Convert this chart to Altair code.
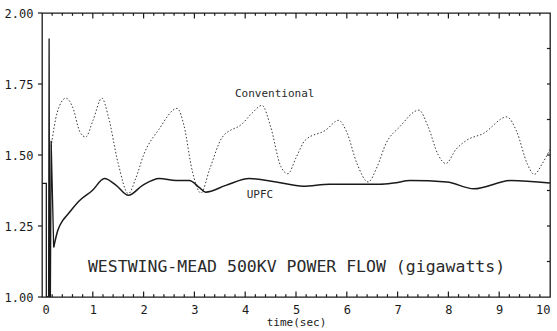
import altair as alt
import pandas as pd

# Conventional (dotted)
conv_t = [0.18, 0.3, 0.47, 0.6, 0.75, 0.86, 1.0, 1.18, 1.3, 1.5, 1.70, 1.85, 2.0, 2.3, 2.66, 2.8, 2.95, 3.13,
          3.3, 3.55, 3.94, 4.15, 4.33, 4.5, 4.7, 4.84, 5.0, 5.18, 5.58, 5.84, 6.0, 6.2, 6.42, 6.6, 6.77, 7.04,
          7.42, 7.6, 7.8, 7.95, 8.15, 8.36, 8.69, 9.15, 9.35, 9.55, 9.69, 9.85, 10.0]
conv_v = [1.53, 1.65, 1.70, 1.67, 1.58, 1.563, 1.62, 1.70, 1.64, 1.47, 1.364, 1.42, 1.50, 1.59, 1.664, 1.60, 1.45, 1.366,
          1.45, 1.563, 1.61, 1.65, 1.675, 1.60, 1.46, 1.434, 1.49, 1.552, 1.587, 1.622, 1.58, 1.47, 1.405, 1.46, 1.54, 1.599,
          1.658, 1.60, 1.50, 1.47, 1.52, 1.552, 1.576, 1.634, 1.58, 1.47, 1.432, 1.47, 1.52]

# UPFC (solid)
upfc_t = [0.23, 0.31, 0.41, 0.48, 0.74, 0.99, 1.23, 1.46, 1.70, 1.98, 2.31, 2.64, 2.9, 3.1, 3.22, 3.62, 4.08,
          4.61, 5.14, 5.66, 6.65, 6.92, 7.25, 7.97, 8.5, 9.23, 10.0]
upfc_v = [1.175, 1.234, 1.27, 1.285, 1.34, 1.375, 1.417, 1.393, 1.358, 1.393, 1.417, 1.41, 1.41, 1.385, 1.369, 1.393, 1.417,
          1.405, 1.39, 1.397, 1.397, 1.401, 1.41, 1.405, 1.381, 1.41, 1.401]

# Fault transient (solid, straight segments)
trans_t = [0.0, 0.085, 0.085, 0.13, 0.14, 0.15, 0.165, 0.18, 0.23]
trans_v = [1.40, 1.40, 1.0, 1.0, 1.91, 1.0, 1.0, 1.55, 1.175]

label_text = ["Conventional", "UPFC"]
label_t = [4.58, 4.29]
label_v = [1.715, 1.358]

title_text = ["WESTWING-MEAD 500KV POWER FLOW (gigawatts)"]
title_t = [5.01]
title_v = [1.104]

# frame tick marks (time positions, value positions)
x_major = [1, 2, 3, 4, 5, 6, 7, 8, 9]
x_minor = [round(i * 0.2, 1) for i in range(1, 50) if i % 5 != 0]
y_major = [1.0, 1.25, 1.5, 1.75, 2.0]
y_right = [1.125, 1.25, 1.375, 1.5, 1.625, 1.75, 1.875]

FONT = "DejaVu Sans Mono"
INK = "#1a1a1a"

conv_df = pd.DataFrame({"t": conv_t, "v": conv_v})
upfc_df = pd.DataFrame({"t": upfc_t, "v": upfc_v})
trans_df = pd.DataFrame({"t": trans_t, "v": trans_v})
lab_df = pd.DataFrame({"txt": label_text, "t": label_t, "v": label_v})
title_df = pd.DataFrame({"txt": title_text, "t": title_t, "v": title_v})

# tick lengths (data units): ~5.5 px, ~2.8 px, ~3 px, ~4 px
MAJ_Y = 0.019
MIN_Y = 0.010
R_X = 0.06
L_X = 0.08
vt = []
for t in x_major:
    vt.append({"t": t, "t2": t, "v": 1.0, "v2": 1.0 + MAJ_Y})
    vt.append({"t": t, "t2": t, "v": 2.0, "v2": 2.0 - MAJ_Y})
for t in x_minor:
    vt.append({"t": t, "t2": t, "v": 1.0, "v2": 1.0 + MIN_Y})
    vt.append({"t": t, "t2": t, "v": 2.0, "v2": 2.0 - MIN_Y})
for v in y_right:
    vt.append({"t": 10.0, "t2": 10.0 - R_X, "v": v, "v2": v})
for v in y_major:
    vt.append({"t": 0.0, "t2": -L_X, "v": v, "v2": v})
ticks_df = pd.DataFrame(vt)

xs = alt.Scale(domain=[0, 10], nice=False, zero=False)
ys = alt.Scale(domain=[1, 2], nice=False, zero=False)

x_axis = alt.Axis(values=list(range(0, 11)), format="d", grid=False, domain=False, ticks=False,
                  labelPadding=7, labelFont=FONT, labelFontSize=12, labelColor=INK,
                  title="time(sec)", titleFont=FONT, titleFontSize=11, titleFontWeight="normal",
                  titleColor=INK, titlePadding=1)
y_axis = alt.Axis(values=y_major, format=".2f", grid=False, domain=False, ticks=False,
                  labelPadding=9, labelFont=FONT, labelFontSize=12,
                  labelColor=INK, title=None)

X = alt.X("t:Q", scale=xs, axis=x_axis)
Y = alt.Y("v:Q", scale=ys, axis=y_axis)

conv = alt.Chart(conv_df).mark_line(interpolate="monotone", color="#3a3a3a", strokeWidth=1,
                                    strokeDash=[1.5, 2], clip=True).encode(x=X, y=Y)
upfc = alt.Chart(upfc_df).mark_line(interpolate="monotone", color=INK, strokeWidth=1.5,
                                    clip=True).encode(x=X, y=Y)
trans = alt.Chart(trans_df).mark_line(color=INK, strokeWidth=1.3, clip=True).encode(x=X, y=Y)

labels = alt.Chart(lab_df).mark_text(font=FONT, fontSize=11, color="#2a2a2a").encode(x=X, y=Y, text="txt:N")
title = alt.Chart(title_df).mark_text(font=FONT, fontSize=16.5, color="#2a2a2a").encode(x=X, y=Y, text="txt:N")

ticks = alt.Chart(ticks_df).mark_rule(color=INK, strokeWidth=1.2).encode(
    x=X, x2="t2:Q", y=Y, y2="v2:Q")

chart = alt.layer(conv, upfc, trans, labels, title, ticks).properties(
    width=508, height=284,
    autosize=alt.AutoSizeParams(type="none"),
    padding={"left": 42, "top": 13, "right": 7, "bottom": 34},
    background="white",
).configure_view(stroke=INK, strokeWidth=1.3)

chart.save("out.html", embed_options={"renderer": "svg", "actions": False})
